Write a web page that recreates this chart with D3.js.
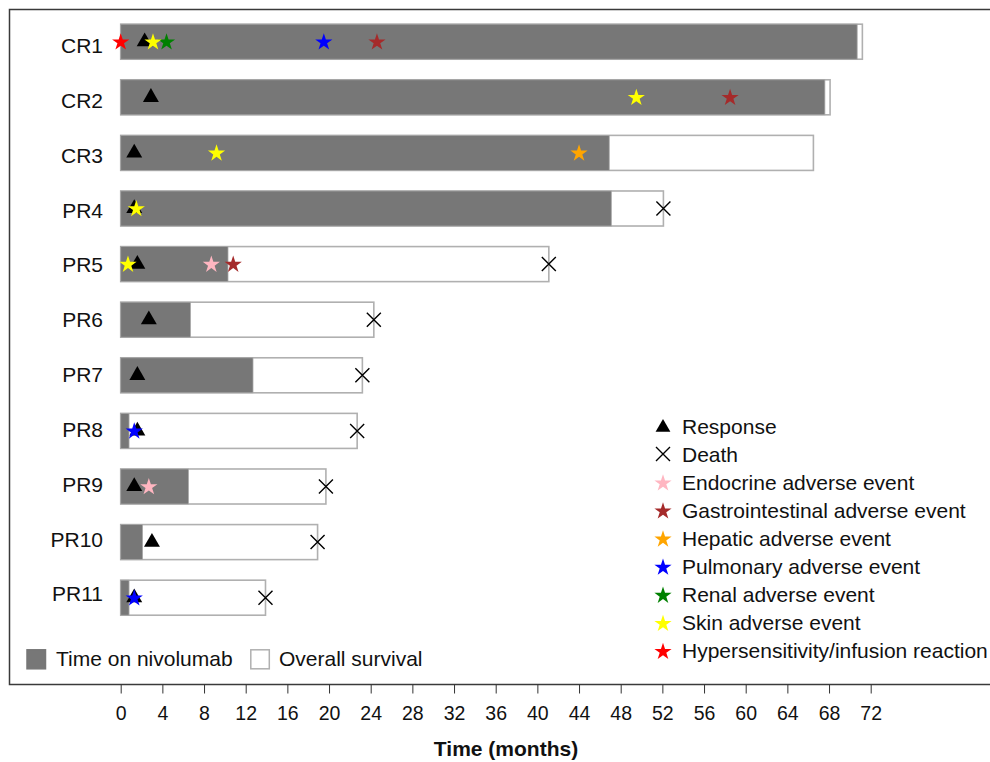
<!DOCTYPE html>
<html>
<head>
<meta charset="utf-8">
<script src="https://cdn.jsdelivr.net/npm/d3@7"></script>
<style>
  html, body { margin: 0; padding: 0; background: #fff; }
  svg { display: block; font-family: "Liberation Sans", Arial, Helvetica, sans-serif; }
</style>
</head>
<body>
<svg id="chart" width="990" height="762"></svg>
<script>
// Patients (best response) and follow-up, in months
const patients = ["CR1", "CR2", "CR3", "PR4", "PR5", "PR6", "PR7", "PR8", "PR9", "PR10", "PR11"];
const nivolumabMonths = [70.7, 67.6, 46.9, 47.1, 10.3, 6.7, 12.7, 0.8, 6.5, 2.1, 0.8];
const survivalMonths = [71.2, 68.1, 66.5, 52.1, 41.1, 24.3, 23.2, 22.7, 19.7, 18.9, 13.9];
const responseMonths = [2.3, 2.9, 1.3, 1.3, 1.6, 2.7, 1.6, 1.6, 1.3, 3.0, 1.3];
const deathMonths = [null, null, null, 52.1, 41.1, 24.3, 23.2, 22.7, 19.7, 18.9, 13.9];

// Adverse events: [patient, month of onset]
const endocrineAE = [["PR5", 8.7], ["PR9", 2.7]];
const gastrointestinalAE = [["CR1", 24.6], ["CR2", 58.5], ["PR5", 10.8]];
const hepaticAE = [["CR3", 44.0]];
const pulmonaryAE = [["CR1", 19.5], ["PR8", 1.3], ["PR11", 1.3]];
const renalAE = [["CR1", 4.4]];
const skinAE = [["CR1", 3.1], ["CR2", 49.5], ["CR3", 9.2], ["PR4", 1.5], ["PR5", 0.7]];
const infusionAE = [["CR1", 0.0]];

const xTicks = d3.range(0, 73, 4);

const aeTypes = [
  { label: "Endocrine adverse event", color: "#ffb6c1", events: endocrineAE },
  { label: "Gastrointestinal adverse event", color: "#a52a2a", events: gastrointestinalAE },
  { label: "Hepatic adverse event", color: "#ffa500", events: hepaticAE },
  { label: "Pulmonary adverse event", color: "#0000ff", events: pulmonaryAE },
  { label: "Renal adverse event", color: "#008000", events: renalAE },
  { label: "Skin adverse event", color: "#ffff00", events: skinAE },
  { label: "Hypersensitivity/infusion reaction", color: "#ff0000", events: infusionAE }
];

const svg = d3.select("#chart");

const x = d3.scaleLinear().domain([0, 72]).range([120.7, 870.7]);
const y = d3.scaleBand().domain(patients).range([13.9, 625.5])
  .paddingInner(0.37).paddingOuter(0.185);
const yLabel = d3.scalePoint().domain(patients).range([45.5, 593.8]);
const cy = p => y(p) + y.bandwidth() / 2;

const star = d3.symbol().type(d3.symbolStar).size(92);
const triangle = d3.symbol().type(d3.symbolTriangle).size(110);
const crossPath = r => `M${-r},${-r}L${r},${r}M${-r},${r}L${r},${-r}`;

// Plot frame
svg.append("rect")
  .attr("x", 9.5).attr("y", 9.5)
  .attr("width", 1000).attr("height", 675)
  .attr("fill", "none").attr("stroke", "#3a3a3a").attr("stroke-width", 1.5);

// Overall survival bars
svg.append("g").selectAll("rect")
  .data(patients)
  .join("rect")
  .attr("x", x(0))
  .attr("y", d => y(d))
  .attr("width", (d, i) => x(survivalMonths[i]) - x(0))
  .attr("height", y.bandwidth())
  .attr("fill", "#fff")
  .attr("stroke", "#b0b0b0")
  .attr("stroke-width", 1.6);

// Time on nivolumab bars
svg.append("g").selectAll("rect")
  .data(patients)
  .join("rect")
  .attr("x", x(0))
  .attr("y", d => y(d))
  .attr("width", (d, i) => x(nivolumabMonths[i]) - x(0))
  .attr("height", y.bandwidth())
  .attr("fill", "#777777")
  .attr("stroke", "#a8a8a8")
  .attr("stroke-width", 0.8);

// Patient labels
svg.append("g").selectAll("text")
  .data(patients)
  .join("text")
  .attr("x", 103)
  .attr("y", d => yLabel(d))
  .attr("dy", "0.36em")
  .attr("text-anchor", "end")
  .attr("font-size", 21)
  .attr("fill", "#111")
  .text(d => d);

// Response markers
svg.append("g").selectAll("path")
  .data(patients)
  .join("path")
  .attr("d", triangle)
  .attr("transform", (d, i) => `translate(${x(responseMonths[i])},${cy(d)})`)
  .attr("fill", "#000");

// Adverse event stars
aeTypes.forEach(t => {
  svg.append("g").selectAll("path")
    .data(t.events)
    .join("path")
    .attr("d", star)
    .attr("transform", d => `translate(${x(d[1])},${cy(d[0]) + 0.5})`)
    .attr("fill", t.color);
});

// Death markers
svg.append("g").selectAll("path")
  .data(patients.filter((d, i) => deathMonths[i] !== null))
  .join("path")
  .attr("d", crossPath(7))
  .attr("transform", d => `translate(${x(deathMonths[patients.indexOf(d)])},${cy(d)})`)
  .attr("fill", "none")
  .attr("stroke", "#000")
  .attr("stroke-width", 1.4);

// Time axis
const axis = svg.append("g")
  .attr("transform", "translate(0,684.5)")
  .call(d3.axisBottom(x).tickValues(xTicks).tickSize(9).tickPadding(12.5).tickFormat(d3.format("d")));
axis.select(".domain").remove();
axis.selectAll(".tick line").attr("stroke", "#333");
axis.selectAll(".tick text")
  .attr("font-size", 19.5)
  .attr("font-family", "'Liberation Sans', Arial, sans-serif")
  .attr("fill", "#111");

svg.append("text")
  .attr("x", 506).attr("y", 756)
  .attr("text-anchor", "middle")
  .attr("font-size", 21)
  .attr("font-weight", "bold")
  .attr("fill", "#111")
  .text("Time (months)");

// Bar legend
const barLegend = [
  { label: "Time on nivolumab", fill: "#777777", stroke: "#777777", x: 27 },
  { label: "Overall survival", fill: "#fff", stroke: "#b0b0b0", x: 250 }
];
const bl = svg.append("g").selectAll("g")
  .data(barLegend)
  .join("g")
  .attr("transform", d => `translate(${d.x},649)`);
bl.append("rect")
  .attr("x", d => d.fill === "#fff" ? 0.8 : 0)
  .attr("y", 0.8)
  .attr("width", 18.5).attr("height", 19)
  .attr("fill", d => d.fill)
  .attr("stroke", d => d.stroke)
  .attr("stroke-width", 1.5);
bl.append("text")
  .attr("x", 29).attr("y", 17)
  .attr("font-size", 21)
  .attr("fill", "#111")
  .text(d => d.label);

// Marker legend
const markerLegend = [
  { label: "Response", kind: "triangle" },
  { label: "Death", kind: "cross" },
  ...aeTypes.map(t => ({ label: t.label, kind: "star", color: t.color }))
];
const ml = svg.append("g").selectAll("g")
  .data(markerLegend)
  .join("g")
  .attr("transform", (d, i) => `translate(663,${426 + i * 28.1})`);
ml.filter(d => d.kind === "triangle").append("path")
  .attr("d", d3.symbol().type(d3.symbolTriangle).size(95)).attr("transform", "translate(0,1.5)").attr("fill", "#000");
ml.filter(d => d.kind === "cross").append("path")
  .attr("d", crossPath(7)).attr("fill", "none").attr("stroke", "#000").attr("stroke-width", 1.4);
ml.filter(d => d.kind === "star").append("path")
  .attr("d", star).attr("transform", "translate(0,1)").attr("fill", d => d.color);
ml.append("text")
  .attr("x", 19).attr("y", 7.5)
  .attr("font-size", 21)
  .attr("fill", "#111")
  .text(d => d.label);
</script>
</body>
</html>
